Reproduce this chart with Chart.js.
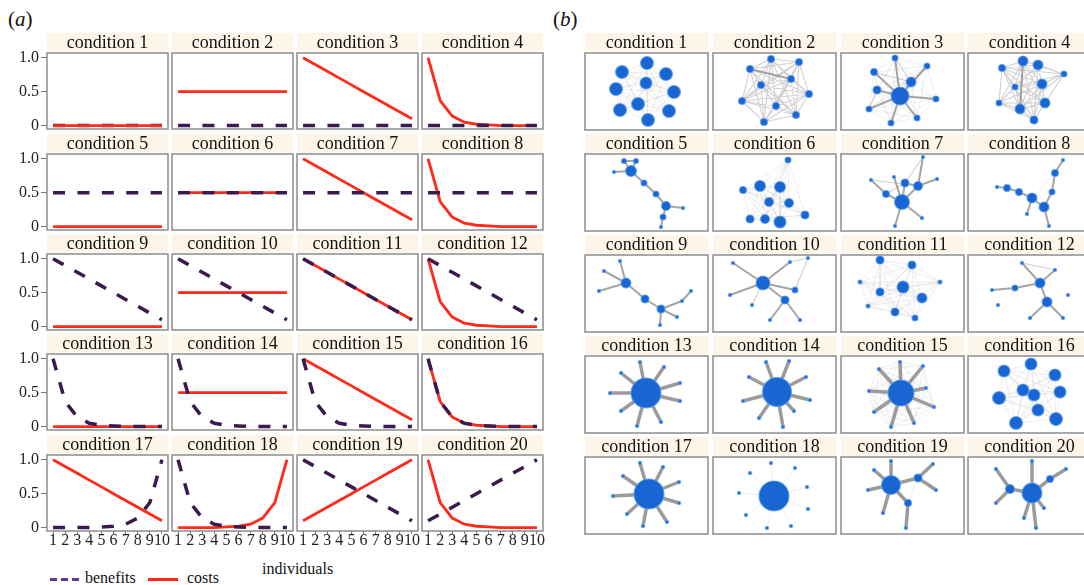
<!DOCTYPE html>
<html>
<head>
<meta charset="utf-8">
<script src="https://cdn.jsdelivr.net/npm/chart.js@4.4.1/dist/chart.umd.min.js"></script>
<style>
  body { margin: 0; background: #fff; width: 1084px; height: 585px; overflow: hidden; position: relative;
         font-family: "Liberation Serif", "DejaVu Serif", serif; color: #111; }
  canvas { position: absolute; }
  .tag { position: absolute; font-size: 21px; }
  .note { position: absolute; font-size: 16px; white-space: nowrap; }
  .sample { position: absolute; height: 3px; }
</style>
</head>
<body>
<div class="tag" style="left:8px; top:7px;">(<i>a</i>)</div>
<div class="tag" style="left:553px; top:7px;">(<i>b</i>)</div>
<div class="note" style="left:262px; top:560px;">individuals</div>
<div class="sample" style="left:50px; top:578px; width:30px; background:repeating-linear-gradient(to right,#5b3a94 0 7px,transparent 7px 11px);"></div>
<div class="note" style="left:85px; top:569px;">benefits</div>
<div class="sample" style="left:148px; top:578px; width:30px; background:#ff2a1a;"></div>
<div class="note" style="left:187px; top:569px;">costs</div>

<script>
// ---- panel (a): benefit / cost curves over 10 individuals ----
const individuals = ['1', '2', '3', '4', '5', '6', '7', '8', '9', '10'];
const yTickValues = [0, 0.5, 1];
const yTickLabels = ['0', '0.5', '1.0'];

const flatZero   = [0, 0, 0, 0, 0, 0, 0, 0, 0, 0];
const flatHalf   = [0.5, 0.5, 0.5, 0.5, 0.5, 0.5, 0.5, 0.5, 0.5, 0.5];
const linearDown = [1, 0.9, 0.8, 0.7, 0.6, 0.5, 0.4, 0.3, 0.2, 0.1];
const linearUp   = [0.1, 0.2, 0.3, 0.4, 0.5, 0.6, 0.7, 0.8, 0.9, 1];
const expDown    = [1, 0.37, 0.14, 0.05, 0.02, 0.01, 0, 0, 0, 0];
const expUp      = [0, 0, 0, 0, 0.01, 0.02, 0.05, 0.14, 0.37, 1];

const benefits = [flatZero, flatZero, flatZero, flatZero,
                  flatHalf, flatHalf, flatHalf, flatHalf,
                  linearDown, linearDown, linearDown, linearDown,
                  expDown, expDown, expDown, expDown,
                  expUp, expDown, linearDown, linearUp];
const costs = [flatZero, flatHalf, linearDown, expDown,
               flatZero, flatHalf, linearDown, expDown,
               flatZero, flatHalf, linearDown, expDown,
               flatZero, flatHalf, linearDown, expDown,
               linearDown, expUp, linearUp, expDown];

// ---- panel (b): networks, nodes [x, y, size] in box units, edges [from, to, tie strength] ----
const netNodes = [
  [[62,10,6.5],[37,19,6.5],[81,21,6.5],[61,30,6],[31,36,6.5],[89,39,6.5],[53,51,6.5],[35,57,6.5],[84,58,6.5],[63,67,6.5]],
  [[58,6,3.5],[37,16,3.5],[86,9,3.5],[48,32,3.5],[78,26,3.5],[96,41,3.5],[29,48,3.5],[63,53,3.5],[83,62,3.5],[51,69,3.5]],
  [[59,43,9],[54,5,3],[33,19,3.5],[86,13,3],[70,29,5],[36,37,4],[95,46,3],[28,56,3],[76,65,3],[50,70,3]],
  [[55,8,5],[70,12,5],[34,15,3.5],[96,21,3],[74,31,5],[47,34,3],[31,50,3],[77,50,5],[52,56,5],[66,67,4]],
  [[39,7,2.5],[51,7,2.5],[46,17,5.5],[29,18,1.6],[59,29,3],[71,40,3],[81,52,4.5],[98,54,1.6],[78,63,3],[76,73,1.6]],
  [[75,6,3],[47,32,5.5],[67,33,5.5],[30,36,3.5],[56,48,4.5],[76,49,4.5],[92,61,4],[37,65,4],[52,65,4.5],[67,68,6]],
  [[61,48,7.5],[82,3,1.6],[30,26,1.6],[53,23,1.6],[64,29,4],[77,32,4.5],[96,25,1.6],[45,40,3.5],[81,64,1.6],[54,72,1.6]],
  [[29,33,1.6],[39,34,3.5],[51,38,3.5],[64,44,5],[76,53,5],[84,38,3],[87,19,3.5],[95,6,1.6],[59,60,1.6],[81,72,1.6]],
  [[41,28,5],[35,6,1.6],[19,16,1.6],[14,36,1.6],[60,44,4],[76,54,4],[75,70,1.6],[97,46,1.6],[106,36,1.6],[92,62,1.6]],
  [[50,28,7],[20,8,1.6],[77,7,1.6],[72,45,4],[82,35,3],[39,50,1.6],[87,65,1.6],[17,40,1.6],[57,65,1.6],[95,3,1.6]],
  [[39,5,4],[71,10,4],[62,32,6],[39,37,4],[81,43,5],[54,57,4],[27,51,2],[99,27,2],[19,27,2],[74,63,3]],
  [[54,8,1.6],[72,28,5],[79,47,5],[24,35,1.6],[47,33,3],[62,63,1.6],[95,63,1.6],[87,15,1.6],[30,50,1.6],[100,40,1.6]],
  [[61,37,15],[55,6,1.6],[79,11,1.6],[36,17,1.6],[95,27,1.6],[25,37,1.6],[95,45,1.6],[36,55,1.6],[76,66,1.6],[52,70,1.6]],
  [[64,36,14.5],[53,6,1.6],[76,5,1.6],[36,21,1.6],[93,21,1.6],[30,45,1.6],[97,44,1.6],[46,62,1.6],[81,55,1.6],[70,71,1.6]],
  [[60,37,13],[59,6,1.6],[82,10,1.6],[38,13,1.6],[28,35,1.6],[85,32,1.6],[93,51,1.6],[33,56,1.6],[73,67,1.6],[50,71,1.6]],
  [[36,15,6],[63,8,6],[87,19,6],[55,34,6],[66,39,6],[92,36,6],[31,42,6.5],[70,54,6],[48,67,6.5],[88,63,6.5]],
  [[64,37,15],[55,6,1.6],[78,10,1.6],[38,19,1.6],[94,25,1.6],[28,39,1.6],[94,46,1.6],[42,57,1.6],[82,65,1.6],[58,69,1.6]],
  [[61,39,15],[58,6,1.6],[82,11,1.6],[37,16,1.6],[94,30,1.6],[26,36,1.6],[95,52,1.6],[33,58,1.6],[78,69,1.6],[54,71,1.6]],
  [[50,28,9.5],[77,21,4],[67,46,3.5],[50,4,1.6],[33,13,1.6],[27,33,1.6],[92,7,1.6],[95,33,1.6],[42,56,1.6],[65,71,1.6]],
  [[64,36,10],[42,32,4.5],[82,22,3.5],[64,4,1.6],[28,12,1.6],[98,12,1.6],[28,46,1.6],[76,51,1.6],[56,61,1.6],[68,71,1.6]]
];
const netEdges = [
  [],
  [[1,4,3],[3,8,2],[0,7,2],[2,6,2],[4,9,2],[3,5,2]],
  [[0,1,3],[0,2,3],[0,3,3],[0,4,3],[0,5,3],[0,6,3],[0,7,3],[0,8,3],[0,9,3],[2,4,2],[1,4,2],[3,4,2],[5,7,2]],
  [[0,8,3],[1,7,2],[0,4,2],[2,7,2],[4,8,2],[1,3,2],[6,7,2],[0,9,2]],
  [[0,1,3],[0,2,3],[1,2,3],[2,3,3],[2,4,3],[4,5,3],[5,6,3],[6,7,3],[6,8,3],[8,9,3]],
  [],
  [[0,7,3],[0,3,3],[0,4,3],[0,5,3],[0,8,3],[0,9,3],[2,7,3],[4,5,3],[5,6,3],[1,4,2],[1,5,3],[2,5,2],[7,4,2]],
  [[0,1,3],[1,2,3],[2,3,3],[3,4,3],[4,5,3],[5,6,3],[6,7,3],[3,8,3],[4,9,3],[3,6,1]],
  [[0,1,3],[0,2,3],[0,3,3],[0,4,3],[4,5,3],[5,6,3],[5,7,3],[7,8,3],[5,9,3]],
  [[0,1,3],[0,2,3],[0,3,3],[0,4,3],[0,5,2],[0,7,3],[3,6,3],[3,8,3],[2,9,2],[4,9,2]],
  [],
  [[0,1,3],[1,2,3],[1,4,3],[4,3,3],[2,5,3],[2,6,3],[1,7,3],[7,0,2]],
  [[0,1,4],[0,2,4],[0,3,4],[0,4,4],[0,5,4],[0,6,4],[0,7,4],[0,8,4],[0,9,4]],
  [[0,1,4],[0,2,4],[0,3,4],[0,4,4],[0,5,4],[0,6,4],[0,7,4],[0,8,4],[0,9,4]],
  [[0,1,4],[0,2,4],[0,3,4],[0,4,4],[0,5,4],[0,6,4],[0,7,4],[0,8,4],[0,9,4]],
  [],
  [[0,1,4],[0,2,4],[0,3,4],[0,4,4],[0,5,4],[0,6,4],[0,7,4],[0,8,4],[0,9,4]],
  [[0,1,1],[0,2,1],[0,3,1],[0,4,1],[0,5,1],[0,6,1],[0,7,1],[0,8,1],[0,9,1]],
  [[0,1,4],[0,2,4],[0,3,4],[0,4,4],[0,5,4],[0,8,4],[1,6,4],[1,7,4],[2,9,4],[1,2,1]],
  [[0,1,4],[0,2,4],[0,3,4],[0,7,4],[0,8,4],[0,9,4],[1,4,4],[1,6,4],[2,5,4]]
];
// tie strength shared by every pair of nodes (0 = none)
const netBackground = [1, 2, 1, 2, 0, 1, 0, 0, 0, 0, 1, 0, 0, 0, 1, 1, 0, 0, 0, 0];

// layout of the two grids
const aCols = [47, 172, 297, 422], aW = 121, aH = 76;
const aRows = [53, 154, 254, 354, 455];
const bCols = [585, 713, 841, 968], bW = 123, bH = 77;
const bRows = [53, 154, 255, 356, 457];

const SERIF = '"Liberation Serif", "DejaVu Serif", serif';
const tieStyle = {
  1: { color: 'rgba(150,150,150,0.16)', width: 1 },
  2: { color: 'rgba(140,140,140,0.4)', width: 1.1 },
  3: { color: 'rgba(135,135,135,0.75)', width: 2 },
  4: { color: 'rgba(150,150,150,0.95)', width: 3.5 }
};

// beige strip behind the title + grey frame round the plot area
const stripFrame = {
  id: 'stripFrame',
  beforeDraw(chart) {
    const t = chart.titleBlock, a = chart.chartArea, ctx = chart.ctx;
    ctx.save();
    ctx.fillStyle = '#fdf5e8';
    ctx.fillRect(a.left, t.top, a.right - a.left, t.height - 1.5);
    ctx.restore();
  },
  afterDraw(chart) {
    const a = chart.chartArea, ctx = chart.ctx;
    ctx.save();
    ctx.strokeStyle = '#8c8c8c';
    ctx.lineWidth = 1.5;
    ctx.strokeRect(a.left, a.top, a.right - a.left, a.bottom - a.top);
    ctx.restore();
  }
};

function addCanvas(left, top, w, h) {
  const c = document.createElement('canvas');
  c.width = w; c.height = h;
  c.style.left = left + 'px'; c.style.top = top + 'px';
  c.style.width = w + 'px'; c.style.height = h + 'px';
  document.body.appendChild(c);
  return c;
}

function titleOpts(n) {
  return {
    display: true, text: 'condition ' + n, fullSize: false, color: '#111',
    font: { family: SERIF, size: 18, weight: 'normal', lineHeight: 1 },
    padding: { top: 1, bottom: 1 }
  };
}

// panel (a)
for (let i = 0; i < 20; i++) {
  const col = i % 4, row = Math.floor(i / 4);
  const showY = col === 0, showX = row === 4;
  const ctx = addCanvas(aCols[col] - 48, aRows[row] - 20, 48 + aW + 8, 20 + aH + 22);
  new Chart(ctx, {
    type: 'line',
    data: {
      labels: individuals,
      datasets: [
        { label: 'benefits', data: benefits[i], borderColor: '#3b1a50', borderWidth: 3.5,
          borderDash: [12, 12.4], pointRadius: 0, tension: 0, order: i === 0 ? 2 : 0 },
        { label: 'costs', data: costs[i], borderColor: '#ff2a1a', borderWidth: 2.8,
          pointRadius: 0, tension: 0, order: 1 }
      ]
    },
    options: {
      responsive: false, animation: false, events: [],
      layout: { autoPadding: false, padding: { left: showY ? 0 : 48, right: 8, top: 0, bottom: showX ? 0 : 22 } },
      scales: {
        x: {
          display: showX, offset: true,
          grid: { display: true, drawOnChartArea: false, tickLength: 3, color: '#777' },
          border: { display: false },
          ticks: { autoSkip: false, maxRotation: 0, minRotation: 0, padding: -3, color: '#222',
                   font: { family: SERIF, size: 16 } },
          afterFit(s) { if (showX) s.height = 22; }
        },
        y: {
          display: showY, min: -0.05, max: 1.07,
          afterBuildTicks(s) { s.ticks = yTickValues.map(v => ({ value: v })); },
          grid: { display: true, drawOnChartArea: false, tickLength: 6, color: '#777' },
          border: { display: false },
          ticks: { padding: 2, color: '#222', font: { family: SERIF, size: 16 },
                   callback: v => yTickLabels[yTickValues.indexOf(v)] },
          afterFit(s) { if (showY) s.width = 48; }
        }
      },
      plugins: { legend: { display: false }, tooltip: { enabled: false }, title: titleOpts(i + 1) }
    },
    plugins: [stripFrame]
  });
}

// panel (b)
function edgeData(nodes, pairs) {
  const pts = [];
  pairs.forEach(([a, b]) => {
    pts.push({ x: nodes[a][0], y: nodes[a][1] }, { x: nodes[b][0], y: nodes[b][1] }, { x: null, y: null });
  });
  return pts;
}

for (let i = 0; i < 20; i++) {
  const col = i % 4, row = Math.floor(i / 4);
  const nodes = netNodes[i];
  const byTie = {};
  const explicit = new Set(netEdges[i].map(e => Math.min(e[0], e[1]) + '-' + Math.max(e[0], e[1])));
  netEdges[i].forEach(([a, b, w]) => { (byTie[w] = byTie[w] || []).push([a, b]); });
  if (netBackground[i]) {
    const w = netBackground[i];
    for (let a = 0; a < nodes.length; a++)
      for (let b = a + 1; b < nodes.length; b++)
        if (!explicit.has(a + '-' + b)) (byTie[w] = byTie[w] || []).push([a, b]);
  }
  const datasets = [{
    data: nodes.map(n => ({ x: n[0], y: n[1] })),
    pointRadius: nodes.map(n => n[2]),
    pointBackgroundColor: '#1766d4',
    pointBorderColor: 'rgba(90,155,235,0.75)',
    pointBorderWidth: 1.2,
    showLine: false, order: 0
  }];
  Object.keys(byTie).forEach(w => {
    datasets.push({
      data: edgeData(nodes, byTie[w]), showLine: true, spanGaps: false, pointRadius: 0,
      borderColor: tieStyle[w].color, borderWidth: tieStyle[w].width, tension: 0, order: 10 - Number(w)
    });
  });
  const ctx = addCanvas(bCols[col] - 4, bRows[row] - 20, bW + 8, 20 + bH + 4);
  new Chart(ctx, {
    type: 'scatter',
    data: { datasets },
    options: {
      responsive: false, animation: false, events: [],
      layout: { autoPadding: false, padding: { left: 4, right: 4, top: 0, bottom: 4 } },
      scales: {
        x: { type: 'linear', display: false, min: 0, max: bW },
        y: { type: 'linear', display: false, min: 0, max: bH, reverse: true }
      },
      plugins: { legend: { display: false }, tooltip: { enabled: false }, title: titleOpts(i + 1) }
    },
    plugins: [stripFrame]
  });
}
</script>
</body>
</html>
